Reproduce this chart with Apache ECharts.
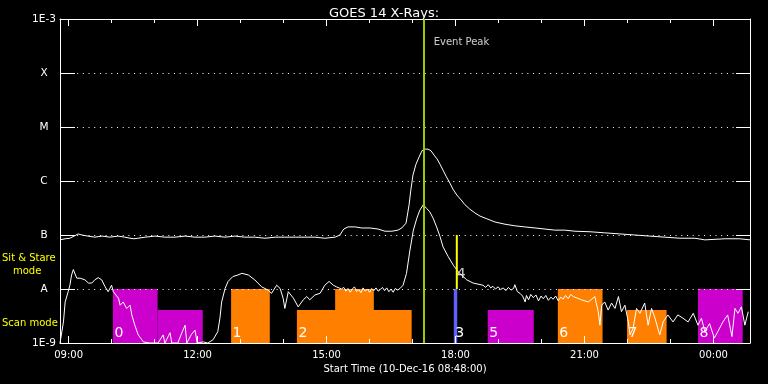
<!DOCTYPE html>
<html>
<head>
<meta charset="utf-8">
<script src="https://cdn.jsdelivr.net/npm/echarts@6/dist/echarts.min.js"></script>
<style>html,body{margin:0;padding:0;background:#000;}#c{width:768px;height:384px;}</style>
</head>
<body>
<div id="c"></div>
<script>
// Time in decimal hours of 10-Dec-16 (values past 24 are 11-Dec), flux as log10(W/m^2)
const longTime = [8.80,8.92,9.03,9.13,9.22,9.31,9.45,9.61,9.78,9.96,10.15,10.31,10.43,10.52,10.61,10.78,11.01,11.24,11.47,11.71,11.94,12.17,12.40,12.64,12.87,13.10,13.33,13.57,13.80,14.03,14.27,14.50,14.73,14.96,15.20,15.31,15.40,15.50,15.66,15.82,16.01,16.20,16.36,16.52,16.66,16.75,16.85,16.92,16.96,17.01,17.08,17.15,17.22,17.29,17.36,17.43,17.50,17.57,17.64,17.71,17.78,17.87,17.94,18.03,18.13,18.22,18.33,18.45,18.57,18.73,18.92,19.15,19.38,19.61,19.85,20.08,20.31,20.54,20.78,21.13,21.47,21.82,22.17,22.52,22.87,23.22,23.57,23.80,24.27,24.61,24.85];
const longFlux = [-7.09,-7.07,-7.06,-7.02,-6.98,-7.00,-7.02,-7.04,-7.02,-7.04,-7.02,-7.04,-7.06,-7.07,-7.06,-7.04,-7.02,-7.04,-7.04,-7.02,-7.04,-7.04,-7.02,-7.04,-7.02,-7.04,-7.04,-7.06,-7.04,-7.04,-7.04,-7.04,-7.04,-7.06,-7.04,-7.00,-6.89,-6.85,-6.85,-6.87,-6.87,-6.89,-6.93,-6.93,-6.91,-6.87,-6.78,-6.44,-6.17,-5.89,-5.69,-5.56,-5.44,-5.41,-5.41,-5.44,-5.52,-5.59,-5.69,-5.80,-5.91,-6.04,-6.15,-6.26,-6.35,-6.44,-6.52,-6.59,-6.65,-6.70,-6.76,-6.80,-6.83,-6.85,-6.87,-6.89,-6.91,-6.91,-6.93,-6.94,-6.96,-6.98,-7.00,-7.02,-7.04,-7.06,-7.06,-7.09,-7.07,-7.07,-7.09];

const shortTime = [8.80,8.88,8.92,8.99,9.03,9.07,9.11,9.15,9.19,9.27,9.30,9.38,9.46,9.54,9.61,9.69,9.77,9.85,9.92,10.00,10.04,10.08,10.16,10.20,10.27,10.35,10.43,10.47,10.54,10.62,10.74,10.89,11.08,11.20,11.24,11.36,11.40,11.54,11.64,11.71,11.75,11.85,11.94,11.99,12.13,12.24,12.36,12.47,12.52,12.56,12.64,12.71,12.82,12.94,13.03,13.18,13.33,13.49,13.64,13.72,13.84,13.92,13.99,14.03,14.11,14.23,14.34,14.46,14.54,14.61,14.73,14.85,14.96,15.06,15.16,15.23,
  15.35,15.40,15.45,15.50,15.55,15.60,15.65,15.70,15.75,15.80,15.85,15.90,15.95,16.00,16.05,16.10,16.15,16.20,16.25,16.30,16.35,16.40,16.45,16.50,16.55,16.60,16.65,16.71,
  16.78,16.86,16.94,17.02,17.10,17.17,17.25,17.33,17.40,17.48,17.56,17.64,17.71,17.83,17.95,18.06,18.14,18.26,18.41,
  18.64,18.70,18.76,18.82,18.87,18.93,18.99,19.05,19.11,19.17,19.23,19.29,19.35,19.38,19.44,19.50,19.56,19.62,19.65,19.70,19.75,19.81,19.87,19.93,19.99,20.04,20.10,20.16,20.22,20.27,20.33,20.39,20.45,20.50,20.56,20.62,20.68,20.74,
  20.93,21.09,21.24,21.32,21.36,21.40,21.47,21.55,21.63,21.71,21.79,21.86,21.94,22.02,22.06,22.13,22.21,22.29,22.40,22.48,22.56,22.64,22.75,22.83,22.94,23.06,23.17,23.29,23.41,23.53,23.64,23.72,23.80,23.91,24.02,24.10,24.22,24.33,24.43,24.50,24.57,24.65,24.73,24.81];
const shortFlux = [-9.00,-8.61,-8.24,-8.05,-7.93,-7.74,-7.64,-7.65,-7.80,-7.80,-7.77,-7.83,-7.89,-7.89,-7.83,-7.79,-7.83,-7.96,-8.05,-7.93,-8.05,-8.02,-8.17,-8.30,-8.24,-8.36,-8.30,-8.48,-8.67,-8.85,-8.98,-9.00,-9.00,-8.85,-9.00,-8.81,-9.00,-9.00,-8.80,-8.67,-9.00,-8.85,-8.76,-9.00,-8.98,-9.00,-8.94,-8.79,-8.54,-8.24,-7.99,-7.86,-7.77,-7.74,-7.71,-7.74,-7.83,-7.96,-8.02,-8.08,-7.93,-7.99,-8.17,-8.36,-8.05,-8.17,-8.33,-8.20,-8.14,-8.20,-8.11,-8.08,-7.93,-7.86,-7.93,-7.96,
  -8.00,-7.97,-8.04,-7.99,-8.06,-8.00,-7.96,-8.05,-8.01,-8.07,-7.98,-8.04,-8.00,-8.06,-7.99,-8.03,-7.98,-8.04,-8.01,-7.97,-8.03,-7.98,-8.05,-8.00,-8.06,-7.99,-8.02,-7.99,
  -7.93,-7.71,-7.28,-6.91,-6.69,-6.54,-6.44,-6.51,-6.57,-6.69,-6.85,-7.03,-7.22,-7.40,-7.56,-7.68,-7.74,-7.83,-7.89,
  -7.93,-7.97,-7.92,-7.98,-7.95,-8.00,-7.96,-8.01,-7.98,-8.03,-7.97,-8.02,-7.99,-7.92,-8.05,-8.08,-8.13,-8.24,-8.12,-8.20,-8.10,-8.16,-8.11,-8.22,-8.13,-8.18,-8.12,-8.21,-8.15,-8.19,-8.13,-8.22,-8.15,-8.19,-8.12,-8.18,-8.10,-8.14,
  -8.20,-8.24,-8.14,-8.42,-8.67,-8.30,-8.24,-8.39,-8.26,-8.36,-8.14,-8.42,-8.30,-8.61,-8.85,-8.73,-8.36,-8.45,-8.26,-8.67,-8.36,-8.54,-8.85,-8.61,-8.48,-8.61,-8.48,-8.54,-8.61,-8.45,-8.67,-8.54,-8.79,-8.64,-8.91,-8.79,-8.61,-8.48,-8.88,-8.36,-8.45,-8.33,-8.67,-8.42];

// Observation mode blocks
const blockStart = [10.03, 11.07, 12.78, 14.31, 15.20, 17.96, 18.75, 20.38, 21.99, 23.64];
const blockEnd   = [11.07, 12.12, 13.68, 16.98, 16.10, 18.04, 19.82, 21.42, 22.91, 24.68];
const blockTop   = [-8.00, -8.39, -8.00, -8.39, -8.00, -8.00, -8.39, -8.00, -8.39, -8.00];
const blockColor = ['#cc00cc','#cc00cc','#ff8000','#ff8000','#ff8000','#6060ff','#cc00cc','#ff8000','#ff8000','#cc00cc'];
const blockLabel = ['0','','1','2','','3','5','6','7','8'];

const eventPeak = 17.26;
const sitStareTime = 18.03;
const sitStareRange = [-7, -8];

const majorTicks = [9, 12, 15, 18, 21, 24];
const minorTicks = [10, 11, 13, 14, 16, 17, 19, 20, 22, 23];
const yTickNames = {'-3':'1E-3','-4':'X','-5':'M','-6':'C','-7':'B','-8':'A','-9':'1E-9'};

const FONT = 'DejaVu Sans';
const pad = n => (n < 10 ? '0' : '') + n;

const chart = echarts.init(document.getElementById('c'), null, {renderer: 'canvas'});
const xBase = {type: 'value', min: 8.8, max: 24.85, gridIndex: 0, z: 1,
  splitLine: {show: false}, axisLabel: {show: false}};
chart.setOption({
  animation: false,
  backgroundColor: '#000',
  title: {text: 'GOES 14 X-Rays:', left: 'center', top: 2,
    textStyle: {color: '#fff', fontFamily: FONT, fontSize: 13, fontWeight: 'normal'}},
  grid: {left: 60, right: 18, top: 19, bottom: 41},
  graphic: [
    {type: 'text', left: 2, top: 253, style: {text: 'Sit & Stare', fill: '#ffff00', font: '10px ' + FONT}},
    {type: 'text', left: 13, top: 266, style: {text: 'mode', fill: '#ffff00', font: '10px ' + FONT}},
    {type: 'text', left: 2, top: 318, style: {text: 'Scan mode', fill: '#ffff00', font: '10px ' + FONT}}
  ],
  xAxis: [
    Object.assign({}, xBase, {position: 'bottom',
      axisLine: {show: true, lineStyle: {color: '#fff', width: 1}},
      axisTick: {show: true, inside: true, length: 7, customValues: majorTicks, lineStyle: {color: '#fff'}},
      axisLabel: {show: true, customValues: majorTicks, color: '#fff', fontFamily: FONT, fontSize: 10, margin: 7,
        formatter: v => pad(Math.round(v) % 24) + ':00'},
      name: 'Start Time (10-Dec-16 08:48:00)', nameLocation: 'middle', nameGap: 20,
      nameTextStyle: {color: '#fff', fontFamily: FONT, fontSize: 10}}),
    Object.assign({}, xBase, {position: 'bottom', axisLine: {show: false},
      axisTick: {show: true, inside: true, length: 4, customValues: minorTicks, lineStyle: {color: '#fff'}}}),
    Object.assign({}, xBase, {position: 'top',
      axisLine: {show: true, lineStyle: {color: '#fff', width: 1}},
      axisTick: {show: true, inside: true, length: 7, customValues: majorTicks, lineStyle: {color: '#fff'}}}),
    Object.assign({}, xBase, {position: 'top', axisLine: {show: false},
      axisTick: {show: true, inside: true, length: 4, customValues: minorTicks, lineStyle: {color: '#fff'}}})
  ],
  yAxis: [
    {type: 'value', min: -9, max: -3, interval: 1, position: 'left', z: 1,
      axisLine: {show: true, lineStyle: {color: '#fff', width: 1}},
      axisTick: {show: true, inside: true, length: 15, lineStyle: {color: '#fff'}},
      axisLabel: {color: '#fff', fontFamily: FONT, fontSize: 10.5, margin: 16, align: 'center',
        formatter: v => yTickNames[String(v)] || ''},
      splitLine: {show: true, lineStyle: {color: '#fff', width: 1, type: [1, 4.7]}}},
    {type: 'value', min: -9, max: -3, interval: 1, position: 'right', z: 1,
      axisLine: {show: true, lineStyle: {color: '#fff', width: 1}},
      axisTick: {show: true, inside: true, length: 14, lineStyle: {color: '#fff'}},
      axisLabel: {show: false}, splitLine: {show: false}}
  ],
  series: [
    {type: 'custom', z: 0, xAxisIndex: 0, yAxisIndex: 0,
      data: blockStart.map((s, i) => [s, blockEnd[i], blockTop[i]]),
      renderItem: function (params, api) {
        const i = params.dataIndex;
        const p0 = api.coord([api.value(0), api.value(2)]);
        const p1 = api.coord([api.value(1), -9]);
        const children = [{type: 'rect', shape: {x: p0[0], y: p0[1], width: p1[0] - p0[0], height: p1[1] - p0[1]},
          style: {fill: blockColor[i]}}];
        if (blockLabel[i]) {
          children.push({type: 'text', x: p0[0] + 1.5, y: p1[1] - 10, z2: 10,
            style: {text: blockLabel[i], fill: '#fff', font: '14px ' + FONT, verticalAlign: 'middle'}});
        }
        return {type: 'group', children: children};
      }},
    {type: 'line', z: 3, data: longTime.map((t, i) => [t, longFlux[i]]), showSymbol: false, symbol: 'none',
      lineStyle: {color: '#fff', width: 1}, silent: true},
    {type: 'line', z: 3, data: shortTime.map((t, i) => [t, shortFlux[i]]), showSymbol: false, symbol: 'none',
      lineStyle: {color: '#fff', width: 1}, silent: true},
    {type: 'line', z: 4, data: sitStareRange.map(v => [sitStareTime, v]), showSymbol: false, symbol: 'none',
      lineStyle: {color: '#ffff00', width: 2}, silent: true,
      markLine: {silent: true, symbol: 'none', label: {show: false},
        lineStyle: {color: '#99cc00', width: 2, type: 'solid'}, data: [{xAxis: eventPeak}]}},
    {type: 'scatter', z: 5, symbolSize: 0, data: [[eventPeak, -3.44]],
      label: {show: true, position: 'right', distance: 10, formatter: 'Event Peak', color: '#fff', fontFamily: FONT, fontSize: 10}},
    {type: 'scatter', z: 5, symbolSize: 0, data: [[sitStareTime, -7.73]],
      label: {show: true, position: 'right', distance: 0, formatter: '4', color: '#fff', fontFamily: FONT, fontSize: 14}}
  ]
});
</script>
</body>
</html>
